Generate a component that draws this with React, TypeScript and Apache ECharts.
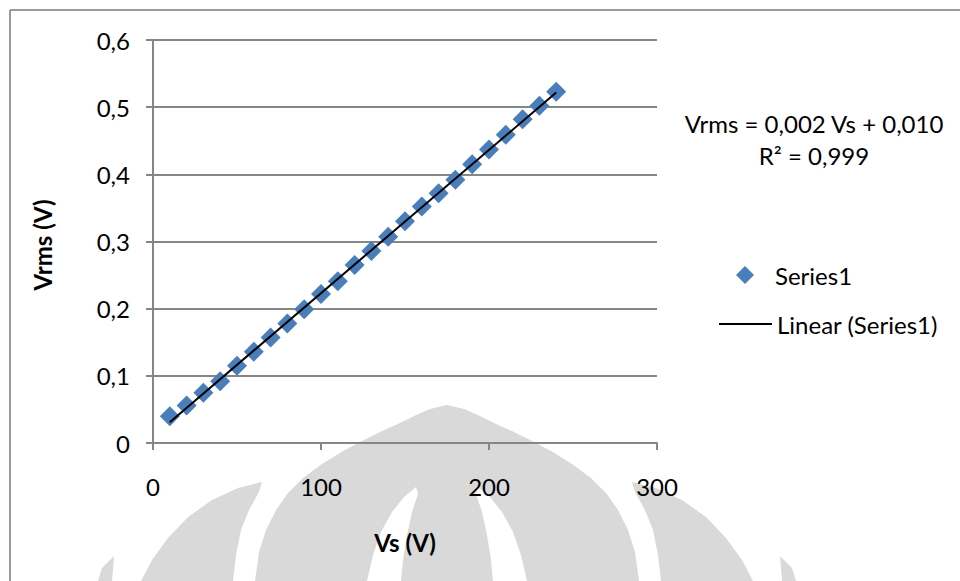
import React, { useEffect, useRef } from "react";
import * as echarts from "echarts";

const xValues = [10, 20, 30, 40, 50, 60, 70, 80, 90, 100, 110, 120, 130, 140, 150, 160, 170, 180, 190, 200, 210, 220, 230, 240];
const yValues = [0.040, 0.056, 0.075, 0.092, 0.115, 0.136, 0.157, 0.178, 0.199, 0.222, 0.241, 0.265, 0.286, 0.307, 0.330, 0.352, 0.372, 0.392, 0.415, 0.437, 0.459, 0.482, 0.502, 0.523];
const xTicks = [0, 100, 200, 300];
const yTicks = [0, 0.1, 0.2, 0.3, 0.4, 0.5, 0.6];
const seriesName = "Series1";
const trendName = "Linear (Series1)";
const equationText = "Vrms = 0,002 Vs + 0,010";
const r2Text = "R² = 0,999";
const xAxisTitle = "Vs (V)";
const yAxisTitle = "Vrms (V)";

const FONT = "Lato, 'Open Sans', sans-serif";
const FS = 24;
const WM = "#d9d9d9";

function mirror(pts: number[][]): number[][] {
  return pts.map(([x, y]) => [894 - x, y]);
}

const archLeft = [[447, 405], [430, 409], [414, 416], [398, 424], [380, 432], [362, 441], [343, 451], [322, 464], [303, 478], [288, 493], [276, 510], [266, 530], [259, 552], [255, 581]];
const archPts = [...archLeft, ...mirror(archLeft).reverse()];
const slitLeft = [[416, 487], [404, 497], [392, 512], [381, 532], [373, 555], [367, 581], [401, 581], [403, 560], [407, 535], [412, 512], [418, 494]];
const petalLeft = [[141, 581], [152, 560], [168, 538], [188, 517], [212, 500], [238, 488], [262, 482], [259, 492], [249, 510], [241, 530], [236, 555], [233, 581]];
const tipLeft = [[98, 581], [102, 568], [110, 560], [114, 556], [112, 581]];

export default function App() {
  const ref = useRef<HTMLDivElement>(null);
  useEffect(() => {
    document.body.style.margin = "0";
    if (!ref.current) return;
    const chart = echarts.init(ref.current, undefined, { renderer: "svg" });

    // least squares linear trend computed from the data
    const n = xValues.length;
    const mx = xValues.reduce((a, b) => a + b, 0) / n;
    const my = yValues.reduce((a, b) => a + b, 0) / n;
    let sxy = 0, sxx = 0;
    for (let i = 0; i < n; i++) {
      sxy += (xValues[i] - mx) * (yValues[i] - my);
      sxx += (xValues[i] - mx) ** 2;
    }
    const slope = sxy / sxx;
    const icpt = my - slope * mx;
    const x0 = xValues[0], x1 = xValues[n - 1];
    const trend = [[x0, icpt + slope * x0], [x1, icpt + slope * x1]];

    const wmPoly = (pts: number[][], fill: string) => ({
      type: "polygon",
      z: -10,
      silent: true,
      shape: { points: pts },
      style: { fill },
    });
    const txt = (text: string, x: number, y: number, bold = false, rotation = 0) => ({
      type: "text", x, y, rotation, silent: true,
      style: {
        text, font: `${bold ? "bold " : ""}${FS}px ${FONT}`, fill: "#000",
        align: "center", verticalAlign: "middle", textAlign: "center", textVerticalAlign: "middle",
      },
    });

    chart.setOption({
      animation: false,
      backgroundColor: "#ffffff",
      grid: { left: 153, right: 303, top: 40, bottom: 138 },
      xAxis: {
        type: "value",
        min: 0,
        max: 300,
        interval: 100,
        axisLine: { show: true, lineStyle: { color: "#868686", width: 2 } },
        axisTick: { show: true, inside: false, length: 7, lineStyle: { color: "#868686", width: 2 } },
        splitLine: { show: false },
        axisLabel: {
          margin: 31,
          color: "#000",
          fontSize: FS,
          fontFamily: FONT,
          formatter: (v: number) => (xTicks.includes(v) ? String(v) : ""),
        },
      },
      yAxis: {
        type: "value",
        min: 0,
        max: 0.6,
        interval: 0.1,
        axisLine: { show: true, lineStyle: { color: "#868686", width: 2 } },
        axisTick: { show: true, inside: false, length: 7, lineStyle: { color: "#868686", width: 2 } },
        splitLine: { show: true, lineStyle: { color: "#868686", width: 2 } },
        axisLabel: {
          margin: 23,
          color: "#000",
          fontSize: FS,
          fontFamily: FONT,
          formatter: (v: number) => {
            const t = yTicks.find((k) => Math.abs(k - v) < 1e-9);
            if (t === undefined) return "";
            return t === 0 ? "0" : t.toFixed(1).replace(".", ",");
          },
        },
      },
      legend: [
        {
          data: [seriesName],
          left: 736,
          top: 263,
          padding: 0,
          orient: "vertical",
          selectedMode: false,
          icon: "diamond",
          itemWidth: 18,
          itemHeight: 18,
          itemStyle: { color: "#4A7EBB", opacity: 1 },
          textStyle: { fontSize: FS, fontFamily: FONT, color: "#000", padding: [0, 0, 0, 16] },
        },
        {
          data: [trendName],
          left: 719,
          top: 312,
          padding: 0,
          orient: "vertical",
          selectedMode: false,
          icon: "rect",
          itemWidth: 53,
          itemHeight: 2,
          itemStyle: { color: "#000" },
          textStyle: { fontSize: FS, fontFamily: FONT, color: "#000" },
        },
      ],
      series: [
        {
          name: seriesName,
          type: "scatter",
          symbol: "diamond",
          symbolSize: 20,
          itemStyle: { color: "#4A7EBB", opacity: 1 },
          data: xValues.map((x, i) => [x, yValues[i]]),
          z: 3,
        },
        {
          name: trendName,
          type: "line",
          symbol: "none",
          showSymbol: false,
          lineStyle: { color: "#000", width: 2 },
          itemStyle: { color: "#000" },
          data: trend,
          z: 4,
        },
      ],
      graphic: [
        wmPoly(archPts, WM),
        wmPoly(slitLeft, "#ffffff"),
        wmPoly(mirror(slitLeft), "#ffffff"),
        wmPoly(petalLeft, WM),
        wmPoly(mirror(petalLeft), WM),
        wmPoly(tipLeft, WM),
        wmPoly(mirror(tipLeft), WM),
        { type: "line", silent: true, shape: { x1: 10, y1: 10, x2: 960, y2: 10 }, style: { stroke: "#9a9a9a", lineWidth: 2 } },
        { type: "line", silent: true, shape: { x1: 10, y1: 10, x2: 10, y2: 581 }, style: { stroke: "#9a9a9a", lineWidth: 2 } },
        txt(equationText, 814, 123),
        txt(r2Text, 814, 155),
        txt(xAxisTitle, 405, 542, true),
        txt(yAxisTitle, 42, 245, true, Math.PI / 2),
      ],
    });
    return () => chart.dispose();
  }, []);
  return <div ref={ref} style={{ width: 960, height: 581 }} />;
}
